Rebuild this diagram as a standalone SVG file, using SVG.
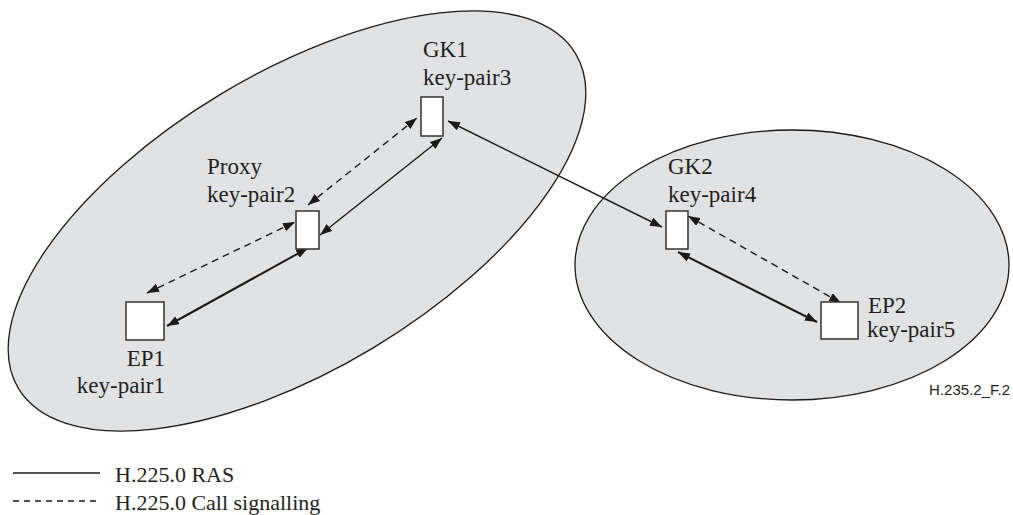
<svg xmlns="http://www.w3.org/2000/svg" width="1013" height="515" viewBox="0 0 1013 515">
<style>
.zone{fill:#e1e2e4;stroke:#1a1a1a;stroke-width:1.3}
.box{fill:#ffffff;stroke:#333333;stroke-width:1.5}
.lbl{font-family:"Liberation Serif","Times New Roman",serif;font-size:23px;fill:#231f20}
.leg{font-family:"Liberation Serif","Times New Roman",serif;font-size:22px;fill:#231f20}
.tag{font-family:"Liberation Sans",Arial,sans-serif;font-size:15px;fill:#231f20}
.c{fill:none;stroke:#1a1a1a;stroke-width:1.4}
.thick{stroke-width:2}
.dash{stroke-dasharray:7 5}
</style>
<defs>
<marker id="ah" viewBox="0 0 12 9" refX="12" refY="4.5" markerWidth="12" markerHeight="9" markerUnits="userSpaceOnUse" orient="auto-start-reverse">
<path d="M0,0 L12,4.5 L0,9 z" fill="#1a1a1a"/>
</marker>
</defs>
<g id="zone1"><ellipse class="zone" cx="297" cy="221" rx="325" ry="148" transform="rotate(-31 297 221)"/></g>
<g id="zone2"><ellipse class="zone" cx="792" cy="265" rx="217" ry="135"/></g>
<g id="connectors">
<line class="c dash" x1="147" y1="293" x2="295" y2="222" marker-start="url(#ah)" marker-end="url(#ah)"/>
<line class="c thick" x1="167" y1="326" x2="308" y2="248" marker-start="url(#ah)" marker-end="url(#ah)"/>
<line class="c dash" x1="308" y1="205" x2="417" y2="118" marker-start="url(#ah)" marker-end="url(#ah)"/>
<line class="c" x1="320" y1="235" x2="442" y2="138" marker-start="url(#ah)" marker-end="url(#ah)"/>
<line class="c" x1="448" y1="121" x2="662" y2="227" marker-start="url(#ah)" marker-end="url(#ah)"/>
<line class="c dash" x1="688" y1="216" x2="841" y2="303" marker-start="url(#ah)" marker-end="url(#ah)"/>
<line class="c thick" x1="678" y1="252" x2="817" y2="322" marker-start="url(#ah)" marker-end="url(#ah)"/>
</g>
<g id="GK1"><rect class="box" x="421" y="97" width="22" height="39"/><text class="lbl" x="423" y="57">GK1</text><text class="lbl" x="423" y="85">key-pair3</text></g>
<g id="Proxy"><rect class="box" x="296" y="211" width="23" height="38"/><text class="lbl" x="207" y="174">Proxy</text><text class="lbl" x="207" y="202">key-pair2</text></g>
<g id="EP1"><rect class="box" x="126" y="302" width="38" height="38"/><text class="lbl" x="165" y="366" text-anchor="end">EP1</text><text class="lbl" x="165" y="393" text-anchor="end">key-pair1</text></g>
<g id="GK2"><rect class="box" x="666" y="211" width="22" height="38"/><text class="lbl" x="668" y="174">GK2</text><text class="lbl" x="668" y="202">key-pair4</text></g>
<g id="EP2"><rect class="box" x="821" y="302" width="37" height="37"/><text class="lbl" x="868" y="313">EP2</text><text class="lbl" x="867" y="337">key-pair5</text></g>
<g id="figtag"><text class="tag" x="1010" y="395" text-anchor="end">H.235.2_F.2</text></g>
<g id="legend">
<line class="c" x1="13" y1="473" x2="100" y2="473" stroke-width="1.2"/>
<text class="leg" x="115" y="482">H.225.0 RAS</text>
<line class="c" x1="13" y1="501" x2="100" y2="501" stroke-width="1.2" stroke-dasharray="6 5"/>
<text class="leg" x="115" y="510">H.225.0 Call signalling</text>
</g>
</svg>
